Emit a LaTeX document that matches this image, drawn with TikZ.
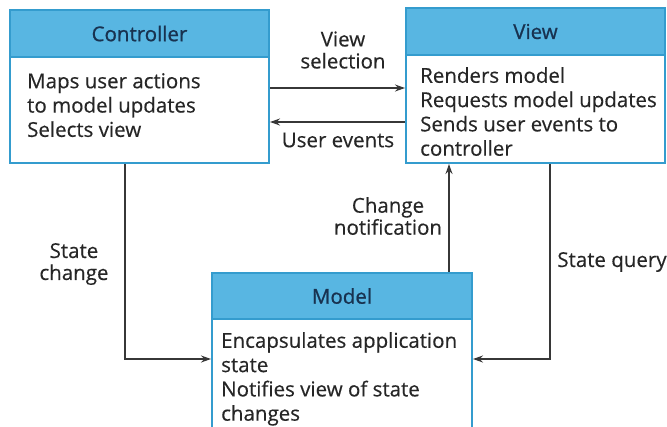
\documentclass[tikz,border=0pt]{standalone}
\usepackage{fontspec}
\setmainfont{Open Sans}
\newfontfamily\headfont[FakeBold=0.8]{Open Sans}
\newfontfamily\bodyfont[FakeBold=0.35]{Open Sans}
\usetikzlibrary{arrows.meta}
\definecolor{headblue}{RGB}{88,182,226}
\definecolor{boxblue}{RGB}{52,156,206}
\definecolor{headtext}{RGB}{24,50,80}
\definecolor{bodytext}{RGB}{38,38,38}
\definecolor{conncol}{RGB}{55,55,55}
\tikzset{
  mvcbox/.style={draw=boxblue, line width=2pt, fill=white, inner sep=0pt, rectangle},
  mvchead/.style={draw=boxblue, line width=2pt, fill=headblue, text=headtext, inner sep=0pt, rectangle, font=\headfont\fontsize{20.5}{24}\selectfont},
  mvcbody/.style={anchor=north west, align=left, text=bodytext, inner sep=0pt, font=\bodyfont\fontsize{20.5}{24.3}\selectfont},
  conn/.style={draw=conncol, line width=1.3pt, -{Stealth[length=10pt,width=7pt]}},
  lab/.style={align=center, text=bodytext, inner sep=0pt, font=\bodyfont\fontsize{20.5}{22}\selectfont},
}
\begin{document}
\begin{tikzpicture}[x=1pt,y=-1pt]
\useasboundingbox (0,0) rectangle (667,426);
% boxes
\node[mvcbox, minimum width=259pt, minimum height=153pt] (ctrl) at (139.5,86.5) {};
\node[mvchead, minimum width=259pt, minimum height=47pt] (ctrlh) at (139.5,33.5) {Controller};
\node[mvcbox, minimum width=259pt, minimum height=155pt] (view) at (535.5,85.5) {};
\node[mvchead, minimum width=259pt, minimum height=47pt] (viewh) at (535.5,31.5) {View};
\node[mvcbox, minimum width=260pt, minimum height=160pt] (model) at (342,353) {};
\node[mvchead, minimum width=260pt, minimum height=46pt] (modelh) at (342,296) {Model};
% body texts
\node[mvcbody] (ctrlb) at (27,73) {Maps user actions\\to model updates\\Selects view};
\node[mvcbody] (viewb) at (420,67) {Renders model\\Requests model updates\\Sends user events to\\controller};
\node[mvcbody] (modelb) at (221,332) {Encapsulates application\\state\\Notifies view of state\\changes};
% coordinates
\coordinate (vsel) at (0,88);
\coordinate (uev) at (0,122);
\coordinate (sc) at (125,0);
\coordinate (sq) at (550,0);
\coordinate (cn) at (449,0);
\coordinate (low) at (0,359);
% connectors
\draw[conn] (ctrl.east |- vsel) -- (view.west |- vsel);
\draw[conn] (view.west |- uev) -- (ctrl.east |- uev);
\draw[conn] (ctrl.south -| sc) -- (sc |- low) -- (model.west |- low);
\draw[conn] (view.south -| sq) -- (sq |- low) -- (model.east |- low);
\draw[conn] (modelh.north -| cn) -- (view.south -| cn);
% labels
\node[lab] (lvsel) at (343,50) {View\\selection};
\node[lab] (luev) at (338,140) {User events};
\node[lab] (lcn) at (388,216) {Change\\notification};
\node[lab] (lsc) at (74,264) {State\\change};
\node[lab] (lsq) at (612,262) {State query};
\end{tikzpicture}
\end{document}
